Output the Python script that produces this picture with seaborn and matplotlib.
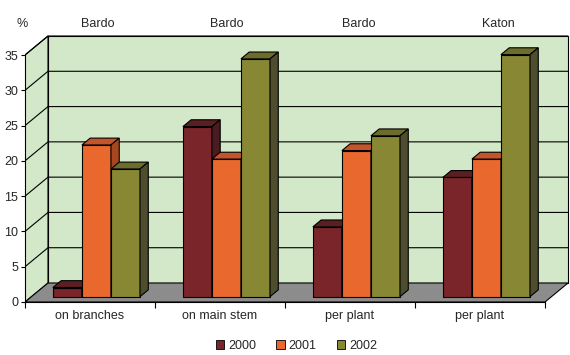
import matplotlib
matplotlib.use("Agg")
import matplotlib.pyplot as plt
import matplotlib.transforms as mtransforms
from matplotlib.patches import Polygon, Patch
import seaborn as sns
import pandas as pd

# data
cultivars = ["Bardo", "Bardo", "Bardo", "Katon"]
measures = ["on branches", "on main stem", "per plant", "per plant"]
years = ["2000", "2001", "2002"]
v2000 = [1.3, 24.1, 9.9, 16.9]
v2001 = [21.5, 19.5, 20.7, 19.5]
v2002 = [18.1, 33.7, 22.8, 34.3]

front_colors = {"2000": "#7a2529", "2001": "#e8682e", "2002": "#878734"}
top_colors = {"2000": "#5a1f22", "2001": "#c4552a", "2002": "#6c6c2c"}
side_colors = {"2000": "#4a1c1f", "2001": "#a8471f", "2002": "#4e4e2f"}

groups = [f"{c} {m}" for c, m in zip(cultivars, measures)]
df = pd.DataFrame({
    "group": groups * 3,
    "year": [y for y in years for _ in groups],
    "value": v2000 + v2001 + v2002,
})

sns.set_theme(style="white")
plt.rcParams["font.family"] = ["Liberation Sans", "DejaVu Sans"]

fig = plt.figure(figsize=(5.7, 3.55), dpi=100)
ax = fig.add_axes([25 / 570, 53 / 355, 545 / 570, 272 / 355])
ax.set_facecolor("none")

# 3d box: depth offsets in data units
DX, DY = 23 / 130, 19 / 7.057
d0, d1 = 0.28, 0.64
ymax = 35
wall = "#d3e8c8"

ax.add_patch(Polygon([(-0.5 + DX, DY), (3.5 + DX, DY), (3.5 + DX, ymax + DY), (-0.5 + DX, ymax + DY)],
                     closed=True, facecolor=wall, edgecolor="black", lw=0.8, zorder=1))
ax.add_patch(Polygon([(-0.5, 0), (-0.5 + DX, DY), (-0.5 + DX, ymax + DY), (-0.5, ymax)],
                     closed=True, facecolor=wall, edgecolor="black", lw=0.8, zorder=1))
ax.add_patch(Polygon([(-0.5, 0), (3.5, 0), (3.5 + DX, DY), (-0.5 + DX, DY)],
                     closed=True, facecolor="#8c8c8c", edgecolor="black", lw=0.8, zorder=1.2))
for v in range(5, ymax + 1, 5):
    ax.plot([-0.5, -0.5 + DX, 3.5 + DX], [v, v + DY, v + DY], color="black", lw=0.8, zorder=1.5)

sns.barplot(data=df, x="group", y="value", hue="year", order=groups, hue_order=years,
            palette=front_colors, saturation=1, width=0.67, edgecolor="black", linewidth=0.8,
            legend=False, ax=ax)

bars = list(ax.patches)[-len(df):]
bar_years = [y for y in years for _ in groups]
for bar, yr in zip(bars, bar_years):
    x, w, h = bar.get_x(), bar.get_width(), bar.get_height()
    x0, y0 = x + d0 * DX, d0 * DY
    ox, oy = (d1 - d0) * DX, (d1 - d0) * DY
    z = 3 + x * 0.1
    bar.set_x(x0)
    bar.set_y(y0)
    bar.set_zorder(z)
    ax.add_patch(Polygon([(x0, y0 + h), (x0 + w, y0 + h), (x0 + w + ox, y0 + h + oy), (x0 + ox, y0 + h + oy)],
                         closed=True, facecolor=top_colors[yr], edgecolor="black", lw=0.8, zorder=z))
    ax.add_patch(Polygon([(x0 + w, y0), (x0 + w, y0 + h), (x0 + w + ox, y0 + h + oy), (x0 + w + ox, y0 + oy)],
                         closed=True, facecolor=side_colors[yr], edgecolor="black", lw=0.8, zorder=z))

ax.set_xlim(-0.5, -0.5 + 545 / 130)
ax.set_ylim(0, 272 / 7.057)
ax.set_xlabel("")
ax.set_ylabel("")

for s in ["top", "right"]:
    ax.spines[s].set_visible(False)
for s in ["left", "bottom"]:
    ax.spines[s].set_color("black")
    ax.spines[s].set_linewidth(0.8)
    ax.spines[s].set_zorder(2)
ax.spines["left"].set_bounds(0, ymax)
ax.spines["bottom"].set_bounds(-0.5, 3.5)

ax.set_yticks(range(0, ymax + 1, 5))
ax.set_xticks([i - 0.5 for i in range(len(groups) + 1)])
ax.set_xticklabels([])
ax.set_xticks(range(len(groups)), minor=True)
ax.set_xticklabels(measures, minor=True)
ax.tick_params(axis="y", direction="out", length=3, width=0.8, color="black", pad=2, labelsize=9, left=True)
ax.tick_params(axis="x", which="major", direction="out", length=4, width=0.8, color="black", bottom=True)
ax.tick_params(axis="x", which="minor", length=0, pad=6, labelsize=9)

# cultivar labels above the groups
trans = mtransforms.blended_transform_factory(ax.transData, fig.transFigure)
label_shift = [0.06, 0.05, 0.07, 0.14]
for i, (c, s) in enumerate(zip(cultivars, label_shift)):
    ax.text(i + s, 1 - 24 / 355, c, transform=trans, ha="center", va="center", fontsize=9, clip_on=False)
fig.text(22 / 570, 1 - 24 / 355, "%", ha="center", va="center", fontsize=9)

handles = [Patch(facecolor=front_colors[y], edgecolor="black", lw=0.6) for y in years]
fig.legend(handles, years, loc="center", bbox_to_anchor=(0.52, 0.025), ncol=3, frameon=False,
           handlelength=0.7, handleheight=0.7, handletextpad=0.3, columnspacing=1.6, fontsize=9)

fig.savefig("out.png", dpi=100)
